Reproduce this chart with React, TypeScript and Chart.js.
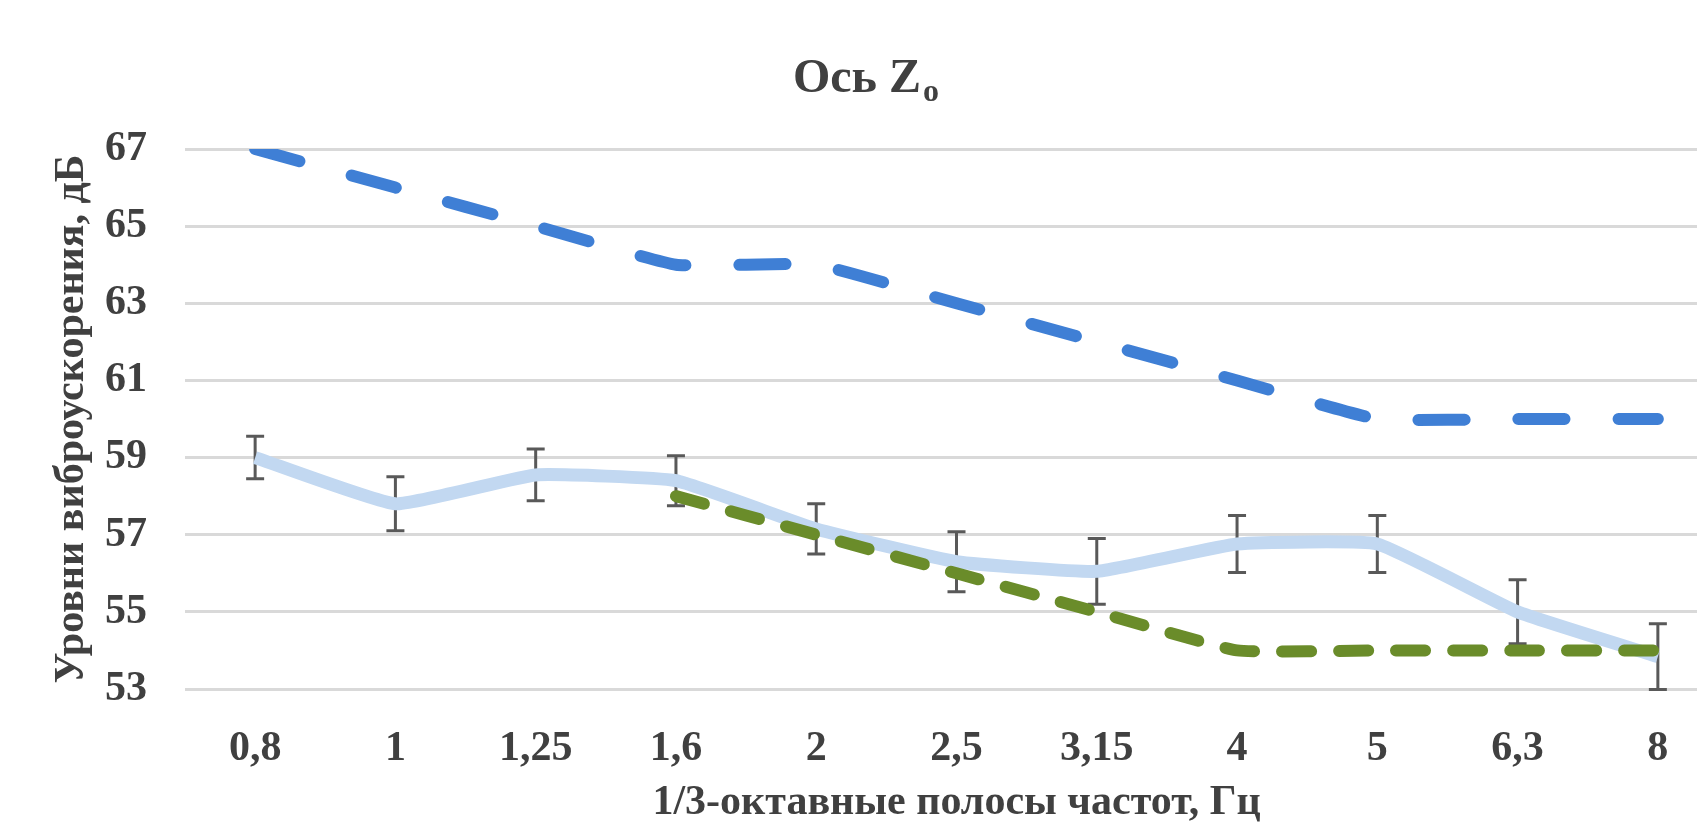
import React, { useEffect, useRef } from 'react';
import { Chart, registerables } from 'chart.js';

Chart.register(...registerables);

// ---- data ----
const categories = ['0,8', '1', '1,25', '1,6', '2', '2,5', '3,15', '4', '5', '6,3', '8'];
const limitValues = [67, 66, 65, 64, 64, 63, 62, 61, 60, 60, 60];
const normValues = [null, null, null, 58, 57, 56, 55, 54, 54, 54, 54];
const measuredValues = [59.0, 57.8, 58.55, 58.4, 57.15, 56.3, 56.05, 56.76, 56.76, 55.0, 53.84];
const measuredErrors = [0.55, 0.7, 0.67, 0.65, 0.65, 0.78, 0.85, 0.74, 0.74, 0.83, 0.85];
const yMin = 53;
const yMax = 67;
const yStep = 2;
const titleMain = 'Ось Z';
const titleSub = 'o';
const xTitle = '1/3-октавные полосы частот, Гц';
const yTitle = 'Уровни виброускорения, дБ';

// ---- styles ----
const FONT = '"Liberation Serif", "Times New Roman", serif';
const TEXT = '#404040';
const CANVAS_W = 1764;
const CANVAS_H = 830;

const errorBarsPlugin = {
  id: 'errorBars',
  beforeDatasetsDraw(chart: any) {
    const { ctx, scales } = chart;
    const x = scales.x;
    const y = scales.y;
    ctx.save();
    ctx.strokeStyle = '#595959';
    ctx.lineWidth = 3;
    measuredValues.forEach((v, i) => {
      const e = measuredErrors[i];
      const px = x.getPixelForValue(i);
      const top = y.getPixelForValue(v + e);
      const bot = y.getPixelForValue(v - e);
      ctx.beginPath();
      ctx.moveTo(px, top);
      ctx.lineTo(px, bot);
      ctx.moveTo(px - 9, top);
      ctx.lineTo(px + 9, top);
      ctx.moveTo(px - 9, bot);
      ctx.lineTo(px + 9, bot);
      ctx.stroke();
    });
    ctx.restore();
  },
};

const titlePlugin = {
  id: 'subTitle',
  afterDraw(chart: any) {
    const { ctx } = chart;
    ctx.save();
    ctx.fillStyle = TEXT;
    ctx.textBaseline = 'alphabetic';
    ctx.textAlign = 'left';
    ctx.font = `bold 48px ${FONT}`;
    const w1 = ctx.measureText(titleMain).width;
    ctx.font = `bold 32px ${FONT}`;
    const w2 = ctx.measureText(titleSub).width;
    const total = w1 + 2 + w2;
    const x0 = 866 - total / 2;
    ctx.font = `bold 48px ${FONT}`;
    ctx.fillText(titleMain, x0, 92);
    ctx.font = `bold 32px ${FONT}`;
    ctx.fillText(titleSub, x0 + w1 + 2, 101);
    ctx.restore();
  },
};

export default function App() {
  const canvasRef = useRef<HTMLCanvasElement | null>(null);

  useEffect(() => {
    if (!canvasRef.current) return;
    const tickFont = { family: FONT, size: 42, weight: 'bold' as const, lineHeight: 1.2 };
    const chart = new Chart(canvasRef.current, {
      type: 'line',
      data: {
        labels: categories,
        datasets: [
          {
            label: 'limit',
            data: limitValues,
            borderColor: '#3F7FD5',
            borderWidth: 12,
            borderDash: [46, 54],
            borderCapStyle: 'round',
            pointRadius: 0,
            tension: 0.12,
            fill: false,
          },
          {
            label: 'norm',
            data: normValues,
            borderColor: '#6A8C2A',
            borderWidth: 12,
            borderDash: [29, 28],
            borderCapStyle: 'round',
            pointRadius: 0,
            tension: 0.12,
            fill: false,
          },
          {
            label: 'measured',
            data: measuredValues,
            borderColor: '#C2D8F1',
            borderWidth: 13,
            borderJoinStyle: 'round',
            pointRadius: 0,
            tension: 0.12,
            fill: false,
          },
        ],
      },
      options: {
        animation: false,
        responsive: false,
        devicePixelRatio: 1,
        layout: { padding: { left: 0, right: 36, top: 149, bottom: 0 } },
        plugins: {
          legend: { display: false },
          title: { display: false },
          tooltip: { enabled: false },
        },
        scales: {
          x: {
            type: 'category',
            offset: true,
            grid: { display: false },
            border: { display: false },
            ticks: {
              padding: 27,
              color: TEXT,
              font: tickFont,
              maxRotation: 0,
              autoSkip: false,
            },
            title: {
              display: true,
              text: xTitle,
              color: TEXT,
              font: tickFont,
              padding: { top: 0, bottom: 2 },
            },
            afterFit: (s: any) => {
              s.height = CANVAS_H - 689;
            },
          },
          y: {
            min: yMin,
            max: yMax,
            grid: { color: '#D9D9D9', lineWidth: 3, drawTicks: false },
            border: { display: false },
            ticks: {
              stepSize: yStep,
              padding: 38,
              color: TEXT,
              font: tickFont,
            },
            title: {
              display: true,
              text: yTitle,
              color: TEXT,
              font: tickFont,
              padding: { top: 47, bottom: 0 },
            },
            afterFit: (s: any) => {
              s.width = 185;
            },
          },
        },
      },
      plugins: [errorBarsPlugin, titlePlugin],
    });
    return () => chart.destroy();
  }, []);

  return (
    <div
      style={{
        position: 'fixed',
        left: 0,
        top: 0,
        width: 1697,
        height: 822,
        overflow: 'hidden',
        background: '#ffffff',
      }}
    >
      <canvas
        ref={canvasRef}
        width={CANVAS_W}
        height={CANVAS_H}
        style={{ display: 'block', width: CANVAS_W, height: CANVAS_H }}
      />
    </div>
  );
}
